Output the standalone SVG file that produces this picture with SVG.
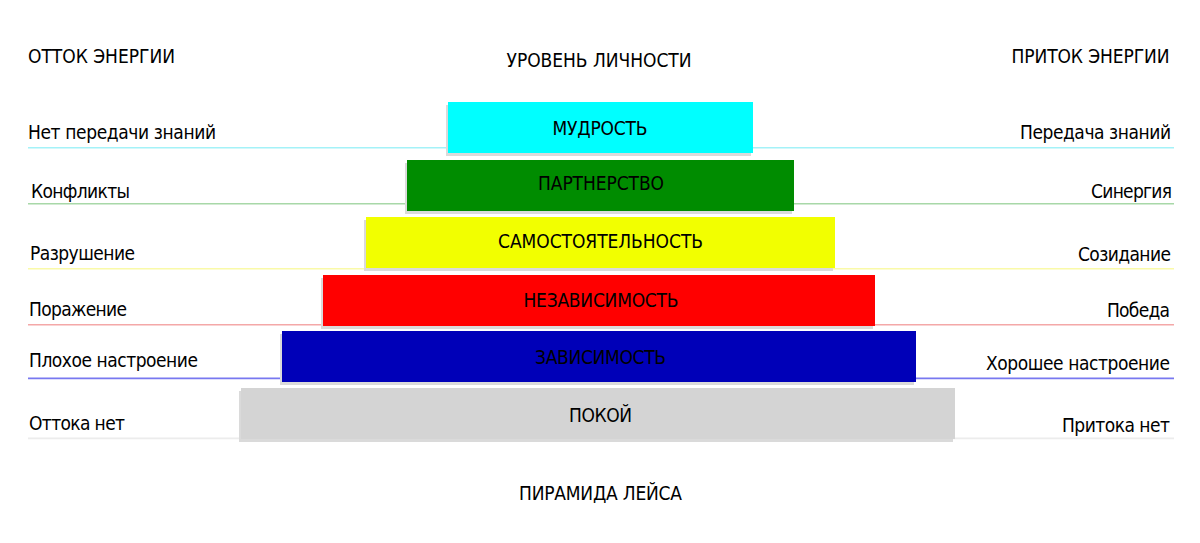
<svg xmlns="http://www.w3.org/2000/svg" width="1200" height="543" viewBox="0 0 1200 543">
<style>
text{font-family:"DejaVu Sans Condensed","DejaVu Sans","Liberation Sans",sans-serif;font-size:19px;fill:#000;}
.c{text-anchor:middle;}
.r{text-anchor:end;}
.sh{fill:#dadada;}
.ln{stroke-width:1.6;fill:none;}
</style>
<rect width="1200" height="543" fill="#fff"/>
<g id="headers">
<text x="28" y="63" textLength="147">ОТТОК ЭНЕРГИИ</text>
<text class="c" x="599" y="67" textLength="185">УРОВЕНЬ ЛИЧНОСТИ</text>
<text class="r" x="1169.5" y="62.5" textLength="158">ПРИТОК ЭНЕРГИИ</text>
<text class="c" x="600.5" y="500" textLength="163">ПИРАМИДА ЛЕЙСА</text>
</g>
<g id="lines">
<line class="ln" x1="28" y1="147.7" x2="1174" y2="147.7" stroke="#a4f2f8"/>
<line class="ln" x1="28" y1="203.7" x2="1174" y2="203.7" stroke="#a8d8a8"/>
<line class="ln" x1="28" y1="268.8" x2="1174" y2="268.8" stroke="#fafaa8"/>
<line class="ln" x1="28" y1="324.8" x2="1174" y2="324.8" stroke="#f4a8a8"/>
<line class="ln" x1="28" y1="378.4" x2="1174" y2="378.4" stroke="#7878f0"/>
<line class="ln" x1="28" y1="438.4" x2="1174" y2="438.4" stroke="#ececec"/>
</g>
<g id="level-wisdom">
<rect class="sh" x="446" y="105" width="305" height="51"/>
<rect x="448" y="102" width="305" height="51" fill="#00ffff"/>
<text class="c" x="600" y="135" textLength="95">МУДРОСТЬ</text>
<text x="28" y="139" textLength="188">Нет передачи знаний</text>
<text class="r" x="1171" y="139" textLength="151">Передача знаний</text>
</g>
<g id="level-partnership">
<rect class="sh" x="405" y="163" width="387" height="51"/>
<rect x="407" y="160" width="387" height="51" fill="#008c00"/>
<text class="c" x="601" y="190" textLength="126">ПАРТНЕРСТВО</text>
<text x="31" y="198" textLength="99">Конфликты</text>
<text class="r" x="1172" y="198" textLength="81">Синергия</text>
</g>
<g id="level-autonomy">
<rect class="sh" x="364" y="220" width="469" height="51"/>
<rect x="366" y="217" width="469" height="51" fill="#f2ff00"/>
<text class="c" x="600.5" y="248" textLength="205">САМОСТОЯТЕЛЬНОСТЬ</text>
<text x="30" y="260" textLength="105">Разрушение</text>
<text class="r" x="1171" y="260.5" textLength="93">Созидание</text>
</g>
<g id="level-independence">
<rect class="sh" x="321" y="278" width="552" height="51"/>
<rect x="323" y="275" width="552" height="51" fill="#ff0000"/>
<text class="c" x="601" y="307" textLength="155">НЕЗАВИСИМОСТЬ</text>
<text x="29" y="316" textLength="98">Поражение</text>
<text class="r" x="1170" y="316.5" textLength="63">Победа</text>
</g>
<g id="level-dependence">
<rect class="sh" x="280" y="334" width="634" height="51"/>
<rect x="282" y="331" width="634" height="51" fill="#0000b8"/>
<text class="c" x="600.5" y="364" textLength="131">ЗАВИСИМОСТЬ</text>
<text x="29" y="366.5" textLength="169">Плохое настроение</text>
<text class="r" x="1170" y="370" textLength="184">Хорошее настроение</text>
</g>
<g id="level-rest">
<rect class="sh" x="239" y="391" width="714" height="51"/>
<rect x="241" y="388" width="714" height="51" fill="#d4d4d4"/>
<text class="c" x="600.5" y="421.5" textLength="63">ПОКОЙ</text>
<text x="29" y="430" textLength="96">Оттока нет</text>
<text class="r" x="1170" y="431.5" textLength="108">Притока нет</text>
</g>
</svg>
